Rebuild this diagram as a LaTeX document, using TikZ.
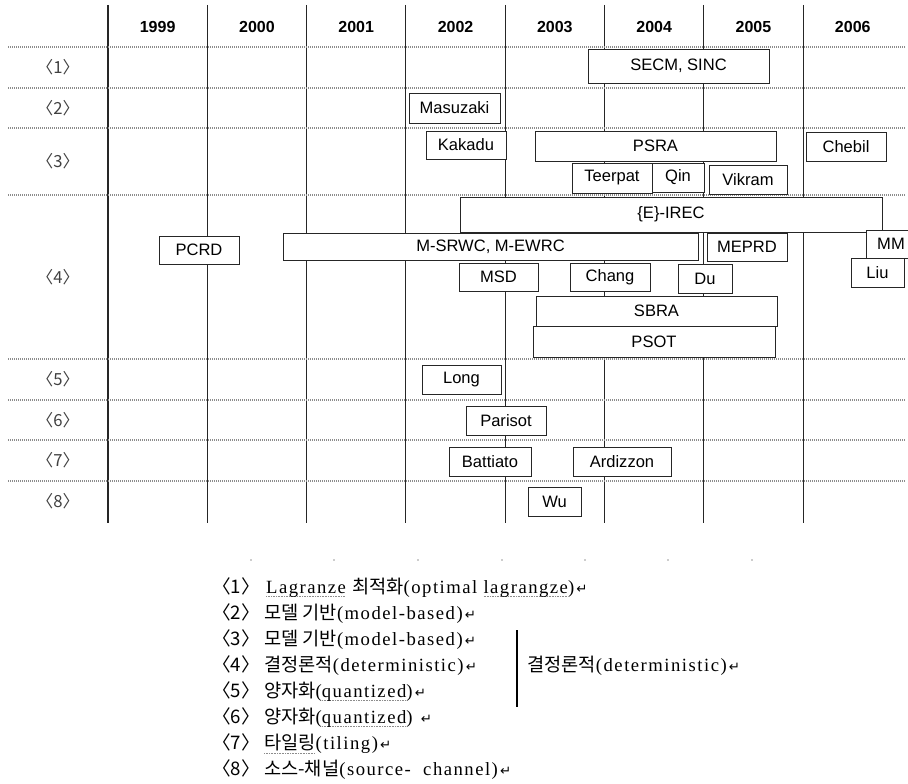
\documentclass[tikz,border=0pt]{standalone}
\usepackage{fontspec}
\setmainfont{Liberation Sans}
\newfontfamily\krfont{Noto Sans CJK KR}
\newfontfamily\latfont[LetterSpace=8]{Liberation Serif}
\newfontfamily\arrfont{DejaVu Sans}
\newsavebox\spellbox
\newcommand\retmark{{\arrfont\fontsize{10}{10}\selectfont\,↵}}
\newcommand\spell[1]{\sbox\spellbox{#1}\leavevmode\rlap{\raisebox{-0.35ex}[0pt][0pt]{\color{black!45}\xleaders\hbox to 1.2pt{\rule{0.7pt}{0.6pt}\hss}\hskip\wd\spellbox}}\usebox\spellbox}
\tikzset{yearline/.style={draw=black!85,line width=0.85pt},rowline/.style={draw=black!45,line width=1.3pt,dash pattern=on 0.75pt off 0.75pt},yr/.style={font=\bfseries\fontsize{12}{14}\selectfont,inner sep=0},rowlab/.style={font=\krfont\fontsize{12.5}{14}\selectfont,text=black!75,inner sep=0},paper/.style={draw=black!85,line width=0.6pt,fill=white,inner sep=0,font=\fontsize{12.4}{14}\selectfont},legtxt/.style={anchor=west,inner sep=0,font=\latfont\fontsize{14}{16}\selectfont},legbar/.style={draw=black,line width=0.9pt}}

\begin{document}
\begin{tikzpicture}[x=0.75pt,y=-0.75pt]
\useasboundingbox (0,0) rectangle (908,784);
% year grid
\foreach \i in {0,...,7} \draw[yearline] ({108+99.3*\i},5) -- ({108+99.3*\i},523);
\foreach \y in {47,88,128,195,359,400,440,481} \draw[rowline] (8,\y) -- (905,\y);
\foreach \i/\yr in {0/1999,1/2000,2/2001,3/2002,4/2003,5/2004,6/2005,7/2006}
  \node[yr] (y\yr) at ({108+99.3*(\i+0.5)},27) {\yr};
\foreach \n/\y in {1/67.5,2/108,3/161.5,4/277,5/379.5,6/420,7/460.5,8/501}
  \node[rowlab] (r\n) at (58,\y) {〈\n〉};
% papers
\foreach \nm/\xa/\ya/\xb/\yb/\txt in {secm/588/49/769/83/{SECM, SINC},masu/409/93/500/123/Masuzaki,kaka/426/131/506/159/Kakadu,psra/535/131/776/161/PSRA,cheb/806/132/886/161/Chebil,teer/572/163/652/193/Teerpat,qin/652/163/704/192/Qin,vikr/709/165/787/194/Vikram,irec/460/197/882/232/{\{E\}-IREC},msrwc/283/233/698/260/{M-SRWC, M-EWRC},mep/707/233/787/261/MEPRD,mm/866/230/916/258/MM,liu/851/258/904/287/Liu,pcrd/159/236/239/264/PCRD,msd/459/263/538/291/MSD,chang/570/263/650/291/Chang,du/678/264/732/293/Du,sbra/536/296/777/326/SBRA,psot/533/326/775/357/PSOT,long/422/365/501/394/Long,pari/466/406/546/435/Parisot,batt/449/447/531/476/Battiato,ardi/573/447/671/476/Ardizzon,wu/528/487/581/516/Wu}
  \node[paper,minimum width={(\xb-\xa)*0.75pt},minimum height={(\yb-\ya)*0.75pt}] (\nm) at ({(\xa+\xb)/2},{(\ya+\yb)/2}) {\txt};
% legend
\foreach \x in {251,334,418,502,585,668,752} \fill[black!40] (\x,560) circle (0.9);
\node[legtxt] (l1) at (212,588) {{\krfont〈1〉} \spell{Lagranze} {\krfont 최적화}(optimal \spell{lagrangze})\retmark};
\node[legtxt] (l2) at (212,614) {{\krfont〈2〉 모델 기반}(model-based)\retmark};
\node[legtxt] (l3) at (212,640) {{\krfont〈3〉 모델 기반}(model-based)\retmark};
\node[legtxt] (l4) at (212,666) {{\krfont〈4〉 결정론적}(deterministic)\retmark};
\node[legtxt] (l5) at (212,692) {{\krfont〈5〉 양자화}(\spell{quantized})\retmark};
\node[legtxt] (l6) at (212,718) {{\krfont〈6〉 양자화}(\spell{quantized}) \retmark};
\node[legtxt] (l7) at (212,744) {{\krfont〈7〉 \spell{타일링}}(tiling)\retmark};
\node[legtxt] (l8) at (212,770) {{\krfont〈8〉 소스-채널}(source-~ channel)\retmark};
\draw[legbar] (517,630) -- (517,707);
\node[legtxt] (det) at (527,666) {{\krfont 결정론적}(deterministic)\retmark};
\end{tikzpicture}
\end{document}
